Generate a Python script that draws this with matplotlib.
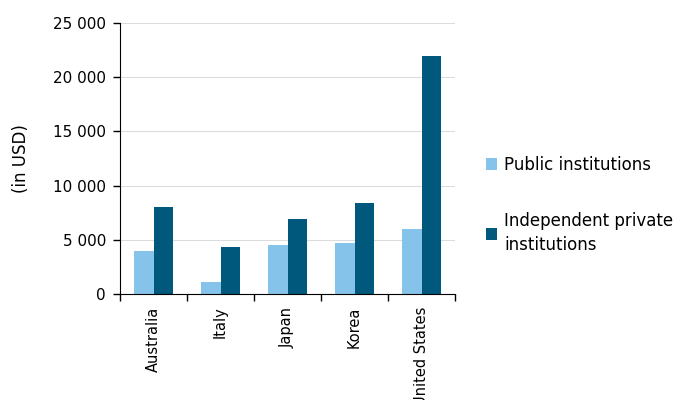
import matplotlib.pyplot as plt
import numpy as np

plt.rcParams['font.family'] = ['DejaVu Sans']

countries = ["Australia", "Italy", "Japan", "Korea", "United States"]
public = [4000, 1100, 4500, 4700, 6000]
private = [8000, 4300, 6900, 8400, 22000]
yticks = [0, 5000, 10000, 15000, 20000, 25000]
ytick_labels = ["0", "5 000", "10 000", "15 000", "20 000", "25 000"]

light = "#85C3EA"
dark = "#00587C"

fig = plt.figure(figsize=(6.8, 4.0), dpi=100)
ax = fig.add_axes([120 / 680, 106 / 400, 335 / 680, 271 / 400])

x = np.arange(len(countries))
w = 0.29
ax.bar(x - w / 2, public, w, color=light, label="Public institutions", zorder=2)
ax.bar(x + w / 2, private, w, color=dark, label="Independent private\ninstitutions", zorder=2)

ax.set_xlim(-0.5, len(countries) - 0.5)
ax.set_ylim(0, 25000)
ax.set_yticks(yticks)
ax.set_yticklabels(ytick_labels, fontsize=11)
ax.yaxis.grid(True, color="#dcdcdc", linewidth=0.8, zorder=0)
ax.set_axisbelow(True)

# category labels in the middle, tick marks at the boundaries
ax.set_xticks(x)
ax.set_xticklabels(countries, rotation=90, fontsize=10.5, va="top")
ax.tick_params(axis="x", length=0, pad=9)
ax.set_xticks(np.arange(len(countries) + 1) - 0.5, minor=True)
ax.tick_params(axis="x", which="minor", length=5, width=1, color="black")
ax.tick_params(axis="y", length=5, width=1, color="black", pad=5)

for s in ["top", "right"]:
    ax.spines[s].set_visible(False)
ax.spines["left"].set_color("black")
ax.spines["bottom"].set_color("black")

ax.set_ylabel("(in USD)", fontsize=12, labelpad=17)

leg = fig.legend(loc="upper left", bbox_to_anchor=(479 / 680, 1 - 149 / 400),
                 frameon=False, fontsize=12, handlelength=0.7, handleheight=0.7,
                 handletextpad=0.4, labelspacing=2.3, borderaxespad=0)
for t in leg.get_texts():
    t.set_linespacing(1.4)

fig.savefig("out.png", dpi=100)
